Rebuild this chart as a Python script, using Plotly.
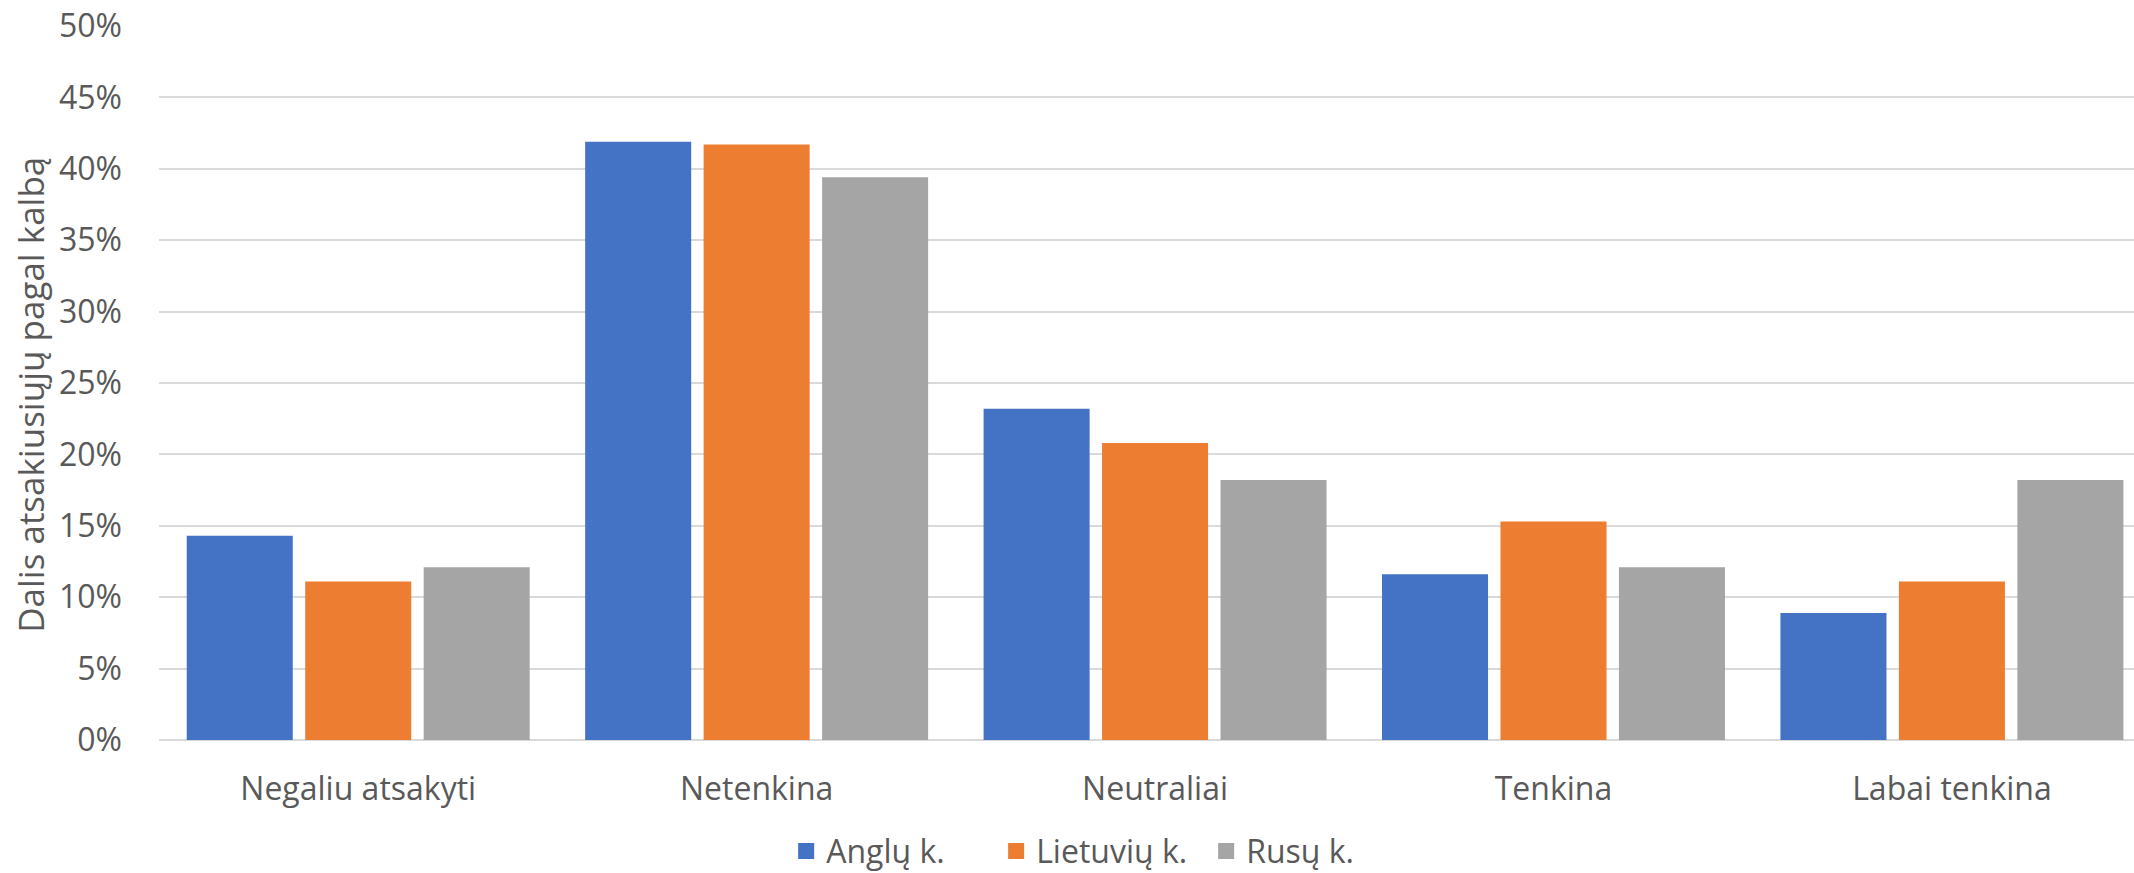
import plotly.graph_objects as go

categories = ["Negaliu atsakyti", "Netenkina", "Neutraliai", "Tenkina", "Labai tenkina"]
anglu = [0.143, 0.419, 0.232, 0.116, 0.089]
lietuviu = [0.111, 0.417, 0.208, 0.153, 0.111]
rusu = [0.121, 0.394, 0.182, 0.121, 0.182]
series_names = ["Anglų k.", "Lietuvių k.", "Rusų k."]
colors = ["#4472C4", "#ED7D31", "#A5A5A5"]
y_ticks = [0, 0.05, 0.10, 0.15, 0.20, 0.25, 0.30, 0.35, 0.40, 0.45, 0.50]
y_title = "Dalis atsakiusiųjų pagal kalbą"

FONT = "Open Sans"
TXT = "#595959"

fig = go.Figure()
for name, vals, col in zip(series_names, [anglu, lietuviu, rusu], colors):
    fig.add_trace(go.Bar(x=categories, y=vals, name=name, marker_color=col,
                         marker_line_width=0, legendgroup=name, showlegend=False))
# legend entries with larger square swatches
for name, col in zip(series_names, colors):
    fig.add_trace(go.Scatter(x=[None], y=[None], mode="markers", name=name,
                             legendgroup=name,
                             marker=dict(symbol="square", size=20, color=col)))

fig.update_layout(
    width=2134, height=873,
    margin=dict(l=159, r=0, t=26, b=133),
    paper_bgcolor="white", plot_bgcolor="white",
    barmode="group", bargap=0.108, bargroupgap=0.105,
    font=dict(family=FONT, size=32, color=TXT),
    legend=dict(orientation="h", xref="container", x=0.516, xanchor="center",
                yref="container", y=0.025, yanchor="middle",
                font=dict(family=FONT, size=32, color=TXT),
                itemwidth=30, tracegroupgap=0,
                entrywidth=165, entrywidthmode="pixels"),
    showlegend=True,
)
fig.add_annotation(text=y_title, textangle=-90, xref="paper", yref="paper",
                   x=0, y=0.4834, xanchor="center", yanchor="middle",
                   xshift=-128, showarrow=False,
                   font=dict(family=FONT, size=35, color=TXT))
fig.update_xaxes(range=[-0.5, 4.457], showgrid=False, showline=False,
                 zeroline=False, ticks="outside", ticklen=21, tickcolor="rgba(0,0,0,0)",
                 tickfont=dict(family=FONT, size=32, color=TXT))
fig.update_yaxes(range=[0, 0.5], tickvals=y_ticks, tickformat=".0%",
                 showgrid=True, gridcolor="#D9D9D9", gridwidth=2,
                 zeroline=True, zerolinecolor="#D9D9D9", zerolinewidth=2,
                 showline=False, ticks="", ticklabelstandoff=36,
                 tickfont=dict(family=FONT, size=32, color=TXT))

fig.write_html("out.html")
